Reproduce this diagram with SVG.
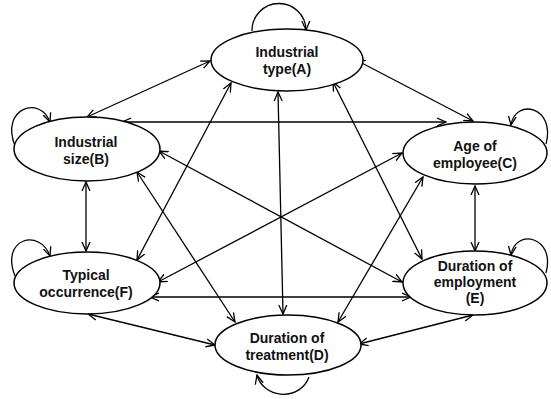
<svg xmlns="http://www.w3.org/2000/svg" width="551" height="399" viewBox="0 0 551 399">
<style>
.n ellipse{fill:#fff;stroke:#000;stroke-width:1.5}
.n text{font-family:"Liberation Sans","Noto Sans",sans-serif;font-weight:700;font-size:14px;text-anchor:middle;fill:#111}
#edges line,#edges path{stroke:#000;stroke-width:1.3;fill:none}
#edges line{marker-start:url(#ah);marker-end:url(#ah)}
#edges path{marker-end:url(#ah)}
</style>
<defs>
<marker id="ah" markerUnits="userSpaceOnUse" markerWidth="10" markerHeight="10" refX="9" refY="4" orient="auto-start-reverse" viewBox="0 0 10 8">
<path d="M0,0 L9,4 L0,8" fill="none" stroke="#000" stroke-width="1.3"/>
</marker>
</defs>
<rect width="551" height="399" fill="#fff"/>
<g id="edges">
<line x1="87" y1="117" x2="210" y2="61"/>
<line x1="356" y1="60" x2="473" y2="121"/>
<line x1="231" y1="83" x2="137" y2="260"/>
<line x1="278" y1="92" x2="283" y2="314"/>
<line x1="333" y1="82" x2="422" y2="259"/>
<line x1="122" y1="122" x2="446" y2="122"/>
<line x1="159" y1="151" x2="402" y2="282"/>
<line x1="402" y1="153" x2="158" y2="282"/>
<line x1="423" y1="177" x2="338" y2="322"/>
<line x1="475" y1="186" x2="475" y2="251"/>
<line x1="86" y1="182" x2="86" y2="251"/>
<line x1="137" y1="172" x2="235" y2="322"/>
<line x1="150" y1="297" x2="411" y2="297"/>
<line x1="88" y1="314" x2="215" y2="345"/>
<line x1="359" y1="344" x2="473" y2="315"/>
<path d="M252,31 A27,27 0 0 1 306,30"/>
<path d="M15,146 C0,108 40,95 50,122"/>
<path d="M15,276 C0,238 40,228 50,256"/>
<path d="M546,144 C556,106 515,98 511,125"/>
<path d="M546,273 C556,236 515,228 511,255"/>
<path d="M309,377 A27,25 0 0 1 257,375"/>
</g>
<g id="nodeA" class="n"><ellipse cx="287" cy="60" rx="76" ry="31"/><text x="287" y="57">Industrial</text><text x="287" y="74">type(A)</text></g>
<g id="nodeB" class="n"><ellipse cx="87" cy="149" rx="73" ry="32"/><text x="86" y="147">Industrial</text><text x="86" y="164">size(B)</text></g>
<g id="nodeC" class="n"><ellipse cx="475" cy="153" rx="72" ry="31"/><text x="475" y="151">Age of</text><text x="475" y="168">employee(C)</text></g>
<g id="nodeF" class="n"><ellipse cx="87" cy="283" rx="73" ry="31"/><text x="86" y="280">Typical</text><text x="86" y="297">occurrence(F)</text></g>
<g id="nodeE" class="n"><ellipse cx="475" cy="283" rx="72" ry="32"/><text x="475" y="271">Duration of</text><text x="475" y="287">employment</text><text x="475" y="303">(E)</text></g>
<g id="nodeD" class="n"><ellipse cx="288" cy="345" rx="73" ry="30"/><text x="287" y="343">Duration of</text><text x="287" y="360">treatment(D)</text></g>
</svg>
